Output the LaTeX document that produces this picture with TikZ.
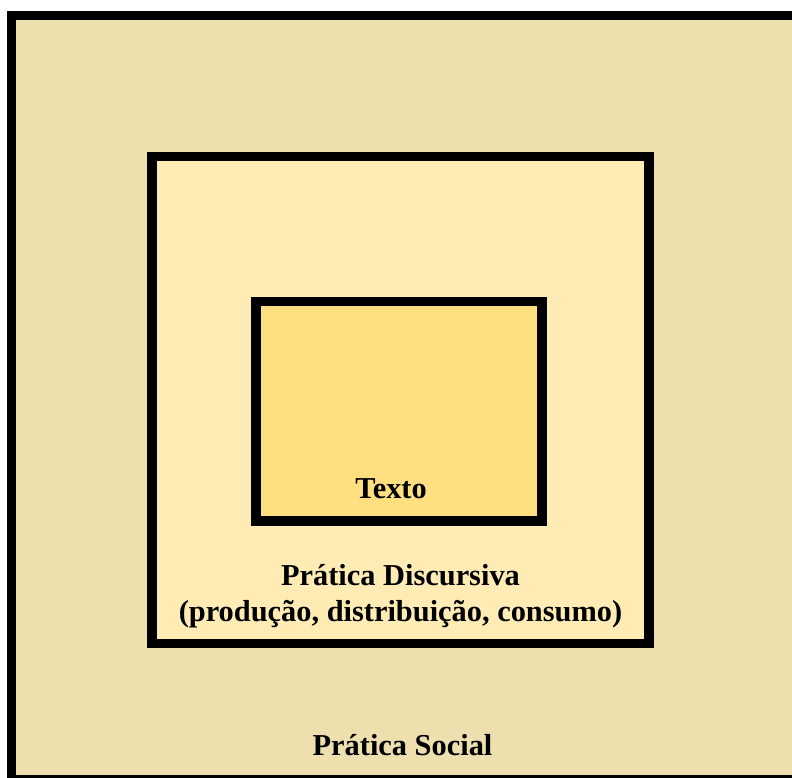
\documentclass[tikz,border=0pt]{standalone}
\usepackage{fontspec}
\setmainfont{Liberation Serif}
\usepackage{tikz}
\usetikzlibrary{positioning}
\definecolor{socialfill}{RGB}{237,224,174}
\definecolor{discfill}{RGB}{255,236,180}
\definecolor{textofill}{RGB}{255,223,128}

\begin{document}
\begin{tikzpicture}[
  x=1bp, y=-1bp,
  font=\fontsize{30.5}{36}\selectfont\bfseries,
  box/.style={draw=black, line width=9.5bp, inner sep=0pt, outer sep=0pt},
  lbl/.style={anchor=base, align=center, inner sep=0pt}]
\useasboundingbox (0,0) rectangle (792,778);
\clip (0,0) rectangle (792,778);
% boxes, outermost first
\node[box, fill=socialfill, minimum width=810bp, minimum height=764bp, anchor=north west] (social) at (11.5,15.5) {};
\node[box, fill=discfill, minimum width=497bp, minimum height=487bp, anchor=north west] (disc) at (152,156.5) {};
\node[box, fill=textofill, minimum width=286bp, minimum height=219.5bp, anchor=north west] (texto) at (256,301.5) {};
% labels (base = last line)
\node[lbl] (textolbl) at (391,498) {Texto};
\node[lbl] (disclbl) at (400.5,621) {Prática Discursiva\\(produção, distribuição, consumo)};
\node[lbl] (sociallbl) at (402.5,755) {Prática Social};
\end{tikzpicture}
\end{document}
